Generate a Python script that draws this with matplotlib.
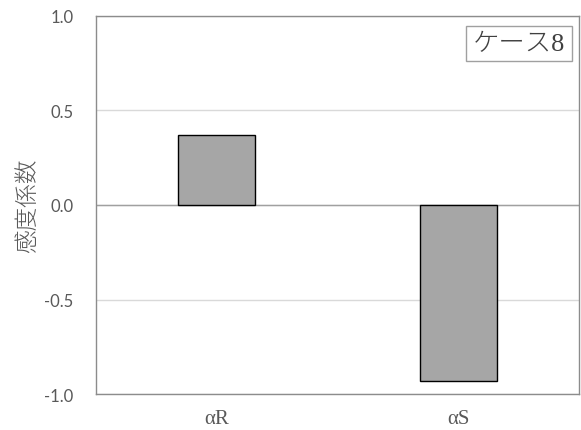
import matplotlib
matplotlib.use("Agg")
import matplotlib.pyplot as plt

categories = ["αR", "αS"]
values = [0.37, -0.93]
yticks = [-1.0, -0.5, 0.0, 0.5, 1.0]
case_label = "ケース8"
ylabel = "感度係数"

fig = plt.figure(figsize=(5.81, 4.31), dpi=100)
ax = fig.add_axes([0.165, 0.0835, 0.8316, 0.8771])

x = list(range(len(categories)))
ax.bar(x, values, width=0.32, color="#a6a6a6", edgecolor="black", linewidth=1, zorder=3)
ax.set_xlim(-0.5, len(categories) - 0.5)
ax.set_ylim(-1.0, 1.0)

ax.set_yticks(yticks)
ax.set_yticklabels([f"{v:.1f}" for v in yticks], family="Lato", fontsize=12, color="#595959")
ax.set_xticks(x)
ax.set_xticklabels(categories, family="Liberation Serif", fontsize=15, color="#595959")
ax.tick_params(axis="y", length=0, pad=16)
ax.tick_params(axis="x", length=0, pad=11)

ax.grid(axis="y", color="#d9d9d9", linewidth=1, zorder=0)
ax.axhline(0, color="#a0a0a0", linewidth=1, zorder=2)
for s in ax.spines.values():
    s.set_color("#8c8c8c")
    s.set_linewidth(1)

ax.set_ylabel(ylabel, family=["Noto Sans CJK JP", "DejaVu Sans"], fontsize=17, color="#595959",
              fontweight="light", labelpad=3.5)

ax.text(0.9715, 0.956, case_label, transform=ax.transAxes, ha="right", va="top",
        family=["Liberation Serif", "Noto Sans CJK JP"], fontsize=19, color="#404040",
        fontweight="light",
        bbox=dict(boxstyle="square,pad=0.25", facecolor="white", edgecolor="#a0a0a0", linewidth=1),
        zorder=5)

fig.savefig("out.png", dpi=100)
